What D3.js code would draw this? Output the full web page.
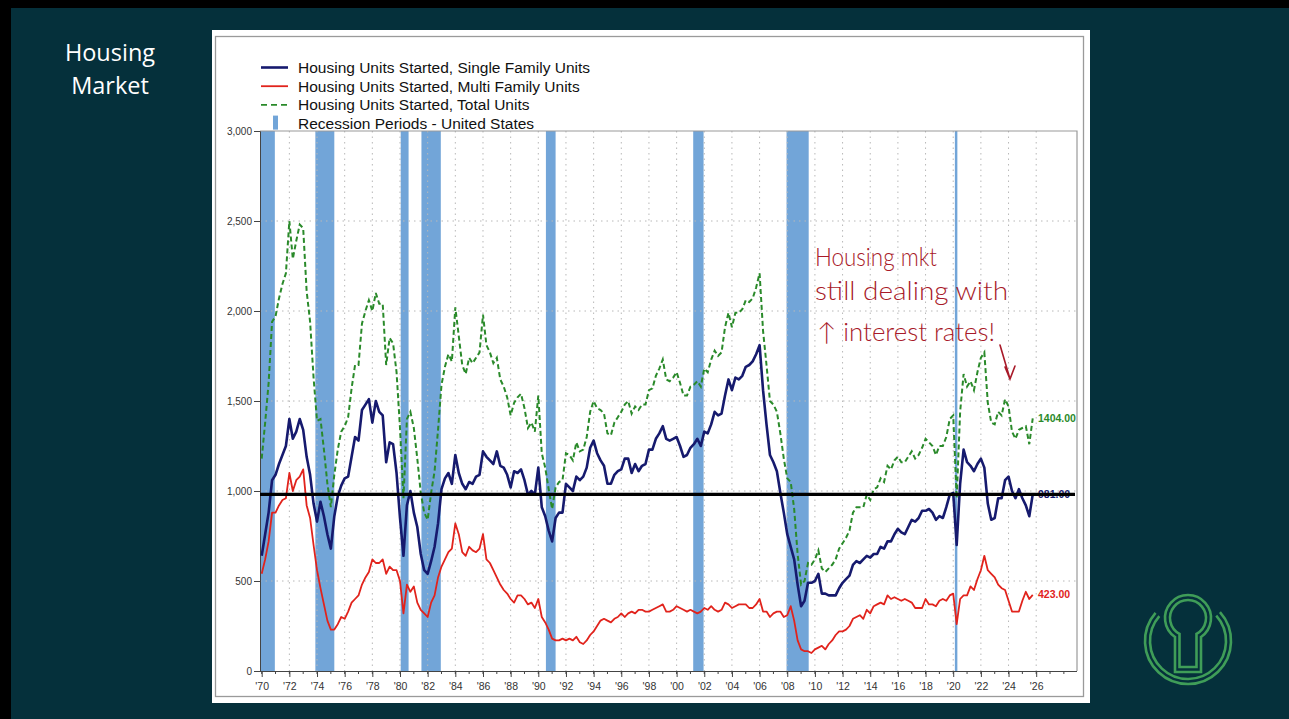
<!DOCTYPE html>
<html><head><meta charset="utf-8">
<script src="https://cdn.jsdelivr.net/npm/d3@7"></script>
<style>html,body{margin:0;padding:0;background:#000;} svg{display:block}</style>
</head><body>
<svg id="c" width="1289" height="719"></svg>
<script>
// ---- data (quarterly, thousands of units, SAAR) ----
const startYear = 1970;
const singleFamily = [
 640,760,880,1060, 1090,1150,1200,1250, 1400,1290,1330,1400, 1340,1190,1090,930,
 830,940,860,760, 680,860,970,1030, 1070,1080,1190,1300, 1280,1450,1480,1510,
 1380,1500,1440,1420, 1160,1270,1260,1100, 850,640,920,1000, 880,800,650,560,
 540,610,690,820, 1010,1070,1100,1040, 1200,1100,1040,1010, 1050,1040,1080,1090,
 1220,1190,1170,1150, 1220,1140,1130,1090, 1020,1110,1100,1120, 1060,980,1000,980,
 1130,910,860,780, 720,850,880,880, 1040,1020,1000,1080, 1060,1080,1130,1240,
 1280,1210,1170,1140, 1040,1040,1090,1110, 1120,1180,1180,1100, 1150,1110,1140,1150,
 1230,1230,1290,1320, 1360,1290,1280,1290, 1300,1250,1190,1200, 1240,1260,1290,1250,
 1330,1320,1370,1440, 1420,1430,1530,1620, 1560,1630,1620,1640, 1690,1700,1720,1760,
 1810,1560,1370,1200, 1160,1110,990,880, 760,690,620,480, 360,390,490,490,
 500,540,430,430, 420,420,420,460, 490,510,530,590, 610,600,620,640,
 630,650,650,690, 680,720,720,760, 790,770,760,800, 840,830,850,890,
 890,900,880,840, 860,850,910,980, 990,700,1040,1230, 1160,1140,1110,1150,
 1180,1130,930,840, 850,960,960,1060, 1080,1000,960,1010, 960,920,860,981
];
const multiFamily = [
 540,620,720,880, 880,920,950,960, 1100,1000,1060,1080, 1120,920,850,700,
 560,460,370,280, 230,230,260,300, 290,330,380,400, 420,480,520,550,
 620,600,600,620, 540,580,560,560, 500,320,480,440, 470,380,340,320,
 300,380,420,520, 580,620,660,680, 820,760,660,640, 690,670,660,680,
 760,620,600,560, 520,480,450,430, 400,380,420,420, 400,370,380,350,
 400,300,270,230, 180,170,170,180, 170,180,170,190, 160,150,170,200,
 220,250,280,290, 280,270,290,300, 320,300,320,330, 320,340,340,330,
 330,340,350,360, 370,330,330,340, 360,350,340,330, 340,330,320,330,
 350,340,360,340, 330,340,380,370, 350,360,370,370, 370,350,350,370,
 400,330,330,300, 320,330,330,300, 310,360,280,170, 120,110,110,100,
 120,130,140,120, 150,170,200,220, 220,230,250,290, 300,310,290,340,
 320,360,370,380, 370,420,400,410, 400,390,400,390, 380,350,350,350,
 400,370,370,360, 390,400,390,420, 430,260,400,420, 420,470,450,510,
 560,640,560,540, 520,480,460,450, 390,330,330,330, 390,440,400,423
];
const totalUnits = [
 1180,1380,1600,1940, 1970,2070,2150,2210, 2500,2290,2390,2480, 2460,2110,1940,1630,
 1390,1400,1230,1040, 910,1090,1230,1330, 1360,1410,1570,1700, 1700,1930,2000,2060,
 2000,2100,2040,2040, 1700,1850,1820,1660, 1350,960,1400,1440, 1350,1180,990,880,
 840,990,1110,1340, 1590,1690,1760,1720, 2020,1860,1700,1650, 1740,1710,1740,1770,
 1980,1810,1770,1710, 1740,1620,1580,1520, 1420,1490,1520,1540, 1460,1350,1380,1330,
 1530,1210,1130,1010, 900,1020,1050,1060, 1210,1200,1170,1270, 1220,1230,1300,1440,
 1500,1460,1450,1430, 1320,1310,1380,1410, 1440,1480,1500,1430, 1470,1450,1480,1480,
 1560,1570,1640,1680, 1730,1620,1610,1630, 1660,1600,1530,1530, 1580,1590,1610,1580,
 1680,1660,1730,1780, 1750,1770,1910,1990, 1910,1990,1990,2010, 2060,2050,2070,2130,
 2210,1890,1700,1500, 1480,1440,1320,1180, 1070,1050,900,650, 480,500,600,590,
 620,670,570,550, 570,590,620,680, 710,740,780,880, 910,910,910,980,
 950,1010,1020,1070, 1050,1140,1120,1170, 1190,1160,1160,1190, 1220,1180,1200,1240,
 1290,1270,1250,1200, 1250,1250,1300,1400, 1420,960,1440,1650, 1580,1610,1560,1660,
 1740,1770,1490,1380, 1370,1440,1420,1510, 1470,1330,1290,1340, 1350,1360,1260,1404
];
const recessions = [
 [1969.92,1970.95],[1973.88,1975.25],[1980.05,1980.62],[1981.55,1982.95],
 [1990.55,1991.25],[2001.2,2001.95],[2007.95,2009.55],[2020.12,2020.3]
];
const yTicks = [0,500,1000,1500,2000,2500,3000];
const xLabelYears = [1970,1972,1974,1976,1978,1980,1982,1984,1986,1988,1990,1992,1994,1996,1998,
 2000,2002,2004,2006,2008,2010,2012,2014,2016,2018,2020,2022,2024,2026];
const legendItems = [
 {label:"Housing Units Started, Single Family Units", key:"single"},
 {label:"Housing Units Started, Multi Family Units", key:"multi"},
 {label:"Housing Units Started, Total Units", key:"total"},
 {label:"Recession Periods - United States", key:"rec"}
];
const endLabels = [
 {key:"total", value:1404, text:"1404.00"},
 {key:"single", value:981, text:"981.00"},
 {key:"multi", value:423, text:"423.00"}
];
const referenceLevel = 981;
const noteLines = ["Housing mkt","still dealing with","\u2191 interest rates!"];

// ---- styles ----
const col = {single:"#161a6e", multi:"#e1231c", total:"#2a8a2a", rec:"#72a5d8"};
const svg = d3.select("#c");
const W = 1289, H = 719;
const L = 260, R = 1077, T = 131, B = 671;

svg.append("rect").attr("width",W).attr("height",H).attr("fill","#000");
svg.append("rect").attr("x",11).attr("y",8).attr("width",W-11).attr("height",H-8).attr("fill","#05303b");

// title
svg.selectAll("text.title").data(["Housing","Market"]).join("text").attr("class","title")
  .attr("x",110).attr("y",(d,i)=>i===0?61:94)
  .attr("font-family","'Open Sans', sans-serif").attr("font-size",23.5)
  .attr("fill","#fff").attr("text-anchor","middle").text(d=>d);

// panel
svg.append("rect").attr("x",212).attr("y",30).attr("width",878).attr("height",673).attr("fill","#fff");
svg.append("rect").attr("x",215.5).attr("y",36.5).attr("width",868).attr("height",660)
  .attr("fill","none").attr("stroke","#9a9a9a").attr("stroke-width",1.3);

const x = d3.scaleLinear().domain([1970,2026]).range([261.7,1036.2]);
const y = d3.scaleLinear().domain([0,3000]).range([B,T]);
const tOf = i => startYear + i/4;

// recession bands
svg.append("g").selectAll("rect").data(recessions).join("rect")
  .attr("x",d=>Math.max(L,x(d[0]))).attr("width",d=>x(d[1])-Math.max(L,x(d[0])))
  .attr("y",T).attr("height",B-T).attr("fill",col.rec);

// grid
const grid = svg.append("g").attr("stroke","#b8b8b8").attr("stroke-width",1).attr("stroke-dasharray","1.5,4");
grid.selectAll("line.h").data(yTicks.filter(v=>v>0&&v<3000)).join("line")
  .attr("x1",L).attr("x2",R).attr("y1",d=>y(d)).attr("y2",d=>y(d));
grid.selectAll("line.v").data(xLabelYears.filter(v=>v>1970)).join("line")
  .attr("x1",d=>x(d)).attr("x2",d=>x(d)).attr("y1",T).attr("y2",B);
// plot frame top/right
svg.append("path").attr("d",`M${L},${T}H${R}V${B}`).attr("fill","none").attr("stroke","#9a9a9a").attr("stroke-width",1.2);

// axes
const yAxis = svg.append("g").attr("transform",`translate(${L},0)`)
  .call(d3.axisLeft(y).tickValues(yTicks).tickFormat(d3.format(",")).tickSize(6).tickPadding(2));
yAxis.selectAll("text").attr("font-family","'Liberation Sans', Arial, sans-serif").attr("font-size",10).attr("fill","#333");
yAxis.selectAll("line,path").attr("stroke","#444");

const minorYears = d3.range(1970,2029);
svg.append("g").selectAll("line").data(minorYears).join("line")
  .attr("x1",d=>x(d)).attr("x2",d=>x(d)).attr("y1",B).attr("y2",B+3).attr("stroke","#444");
const xAxis = svg.append("g").attr("transform",`translate(0,${B})`)
  .call(d3.axisBottom(x).tickValues(xLabelYears).tickFormat(d=>"'"+String(d).slice(2)).tickSize(6).tickPadding(6).tickSizeOuter(0));
xAxis.select(".domain").attr("d",`M${L},0.5H${R}`);
xAxis.selectAll("text").attr("font-family","'Liberation Sans', Arial, sans-serif").attr("font-size",10.5).attr("fill","#333");
xAxis.selectAll("line,path").attr("stroke","#444");

// lines
const line = d3.line().x((d,i)=>x(tOf(i))).y(d=>y(d));
svg.append("path").datum(totalUnits).attr("d",line).attr("fill","none")
  .attr("stroke",col.total).attr("stroke-width",2).attr("stroke-dasharray","5,3");
svg.append("path").datum(multiFamily).attr("d",line).attr("fill","none")
  .attr("stroke",col.multi).attr("stroke-width",1.8).attr("stroke-linejoin","round");
svg.append("path").datum(singleFamily).attr("d",line).attr("fill","none")
  .attr("stroke",col.single).attr("stroke-width",2.6).attr("stroke-linejoin","round");

// end labels
svg.append("g").selectAll("text").data(endLabels).join("text")
  .attr("x",1038).attr("y",d=>y(d.value)+3.5).attr("fill",d=>col[d.key])
  .attr("font-family","'Liberation Sans', Arial, sans-serif").attr("font-size",10.5).attr("font-weight","bold")
  .text(d=>d.text);

// reference level line
svg.append("line").attr("x1",L).attr("x2",R-2).attr("y1",y(referenceLevel)).attr("y2",y(referenceLevel))
  .attr("stroke","#000").attr("stroke-width",3.2);

// legend
const lg = svg.append("g");
legendItems.forEach((d,i)=>{
  const yy = 67.5 + i*18.7;
  if (d.key==="rec") {
    lg.append("rect").attr("x",273).attr("y",yy-8).attr("width",5).attr("height",14).attr("fill",col.rec);
  } else {
    lg.append("line").attr("x1",261).attr("x2",288).attr("y1",yy).attr("y2",yy)
      .attr("stroke",col[d.key]).attr("stroke-width",d.key==="single"?2.6:1.8)
      .attr("stroke-dasharray",d.key==="total"?"6,4":null);
  }
  lg.append("text").attr("x",298).attr("y",yy+5.3).attr("font-family","'Liberation Sans', Arial, sans-serif")
    .attr("font-size",15.5).attr("fill","#111").text(d.label);
});

// handwritten note
const noteX = [815,815,817], noteY = [266,300,341], noteW = [122,193,178];
svg.append("g").selectAll("text").data(noteLines).join("text")
  .attr("x",(d,i)=>noteX[i]).attr("y",(d,i)=>noteY[i])
  .attr("font-family","'Lato', 'DejaVu Sans', sans-serif").attr("font-weight",300).attr("font-size",25)
  .attr("fill","#a81a29").attr("textLength",(d,i)=>noteW[i]).attr("lengthAdjust","spacingAndGlyphs")
  .text(d=>d);
svg.append("path").attr("d","M1000,345L1010,379M1005,367L1010,379L1015,366")
  .attr("fill","none").attr("stroke","#a81a29").attr("stroke-width",1.6).attr("stroke-linecap","round");

// logo
const lgc = "#3f9d58";
const logo = svg.append("g").attr("fill","none").attr("stroke",lgc).attr("stroke-width",2.6);
function keyhole(cx,cy,r,hw,bottom){
  const dy = Math.sqrt(r*r-hw*hw);
  return `M${cx-hw},${bottom}V${cy+dy}A${r},${r} 0 1 1 ${cx+hw},${cy+dy}V${bottom}Z`;
}
logo.append("path").attr("d",keyhole(1188,618,23,13,672));
logo.append("path").attr("d",keyhole(1188,618,18,8.5,667));
[38,43].forEach(r=>{
  const p = d3.path();
  p.arc(1188,641,r,-42*Math.PI/180,221*Math.PI/180,false);
  logo.append("path").attr("d",p.toString());
});
</script>
</body></html>
